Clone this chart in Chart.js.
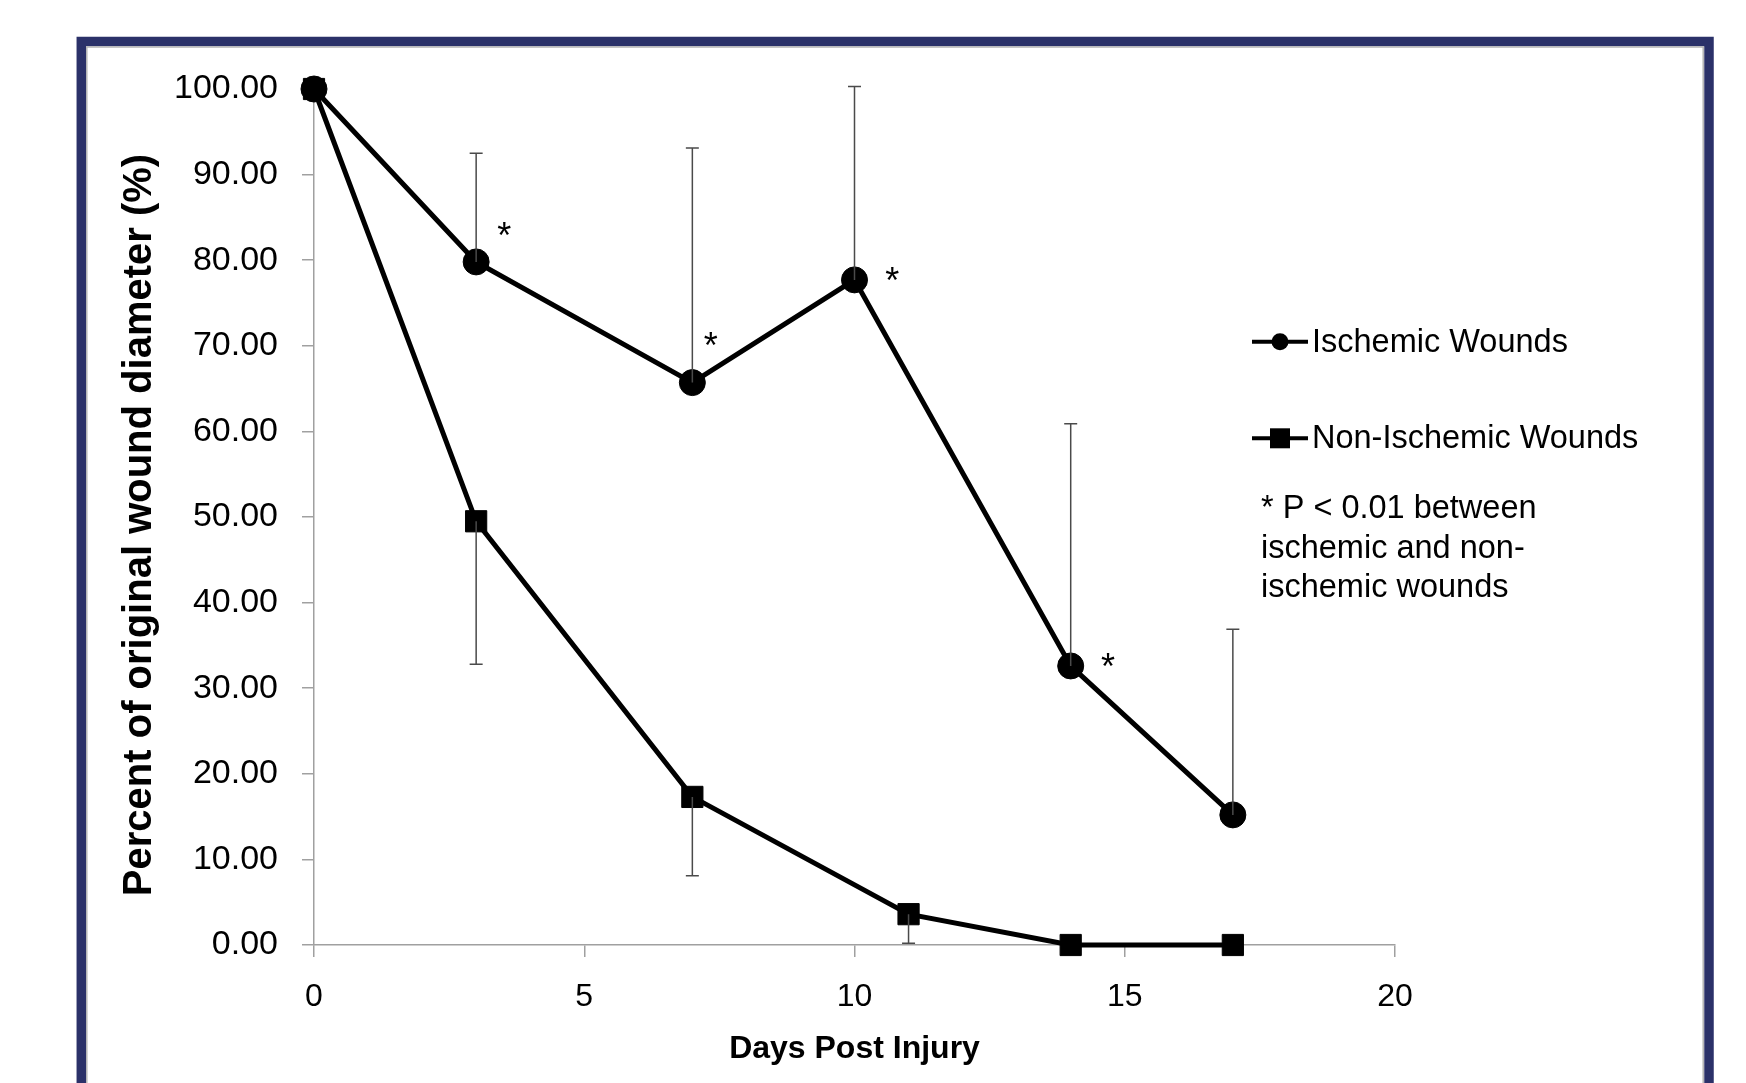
<!DOCTYPE html>
<html>
<head>
<meta charset="utf-8">
<script src="https://cdn.jsdelivr.net/npm/chart.js@4.4.1/dist/chart.umd.min.js"></script>
<style>
  html, body { margin: 0; padding: 0; background: #fff; }
  #wrap { width: 1746px; height: 1083px; position: relative; }
</style>
</head>
<body>
<div id="wrap"><canvas id="wounds"></canvas></div>
<script>
// Days post injury for each group
const ischemicDays = [0, 3, 7, 10, 14, 17];
const nonIschemicDays = [0, 3, 7, 11, 14, 17];

// Percent of original wound diameter
const ischemicValues = [100, 79.8, 65.7, 77.7, 32.6, 15.2];
const nonIschemicValues = [100, 49.5, 17.3, 3.6, 0, 0];

// Error bars (ischemic drawn upward, non-ischemic downward)
const ischemicErrUp = [0, 12.7, 27.4, 22.6, 28.3, 21.7];
const nonIschemicErrDown = [0, 16.7, 9.2, 3.4, 0, 0];

// Significance marks (* P < 0.01)
const starDays = [3.52, 7.34, 10.70, 14.69];
const starValues = [83.6, 70.8, 78.4, 33.3];

const seriesNames = ['Ischemic Wounds', 'Non-Ischemic Wounds'];
const noteLines = ['* P < 0.01 between', 'ischemic and non-', 'ischemic wounds'];
const yTitle = 'Percent of original wound diameter (%)';

const yTicks = [0, 10, 20, 30, 40, 50, 60, 70, 80, 90, 100];
const xTicks = [0, 5, 10, 15, 20];

Chart.defaults.font.family = "'Liberation Sans', Arial, sans-serif";
Chart.defaults.color = '#000';

const axisGrey = '#a0a0a0';

// frame round the whole figure
const framePlugin = {
    id: 'frame',
    beforeDraw(chart) {
        const ctx = chart.ctx;
        ctx.save();
        ctx.fillStyle = '#fff';
        ctx.fillRect(0, 0, chart.width, chart.height);
        ctx.strokeStyle = '#2b3169';
        ctx.lineWidth = 9.5;
        ctx.strokeRect(81.3, 41.5, 1627.7, 1080);
        ctx.strokeStyle = '#b4b4b4';
        ctx.lineWidth = 1.5;
        ctx.strokeRect(86.8, 47, 1616.4, 1080);
        ctx.restore();
    }
};

// error bars, stars, y title, legend and note
const extrasPlugin = {
    id: 'extras',
    afterDatasetsDraw(chart) {
        const ctx = chart.ctx;
        const xs = chart.scales.x, ys = chart.scales.y;
        ctx.save();
        ctx.strokeStyle = '#4a4a4a';
        ctx.lineWidth = 1.5;
        const bar = (day, from, to) => {
            const px = xs.getPixelForValue(day);
            const p1 = ys.getPixelForValue(from);
            const p2 = ys.getPixelForValue(to);
            ctx.beginPath();
            ctx.moveTo(px, p1);
            ctx.lineTo(px, p2);
            ctx.moveTo(px - 6.5, p2);
            ctx.lineTo(px + 6.5, p2);
            ctx.stroke();
        };
        ischemicDays.forEach((d, i) => {
            if (ischemicErrUp[i] > 0) bar(d, ischemicValues[i], ischemicValues[i] + ischemicErrUp[i]);
        });
        nonIschemicDays.forEach((d, i) => {
            if (nonIschemicErrDown[i] > 0) bar(d, nonIschemicValues[i], nonIschemicValues[i] - nonIschemicErrDown[i]);
        });

        // stars, centred on their ink
        ctx.fillStyle = '#000';
        ctx.font = "36px 'Liberation Sans'";
        ctx.textAlign = 'center';
        ctx.textBaseline = 'alphabetic';
        const m = ctx.measureText('*');
        const inkMid = (m.actualBoundingBoxAscent - m.actualBoundingBoxDescent) / 2;
        starDays.forEach((d, i) => {
            ctx.fillText('*', xs.getPixelForValue(d), ys.getPixelForValue(starValues[i]) + inkMid);
        });

        // y axis title (sits a little below the plot centre in the original)
        ctx.save();
        ctx.translate(140, 525);
        ctx.rotate(-Math.PI / 2);
        ctx.font = "bold 40px 'Liberation Sans'";
        ctx.textBaseline = 'middle';
        ctx.fillText(yTitle, 0, 0);
        ctx.restore();

        // legend
        ctx.textAlign = 'left';
        ctx.font = "32.5px 'Liberation Sans'";
        const rows = [341.7, 438.3];
        chart.data.datasets.forEach((ds, i) => {
            const y = rows[i];
            ctx.strokeStyle = '#000';
            ctx.lineWidth = 4;
            ctx.beginPath();
            ctx.moveTo(1252, y);
            ctx.lineTo(1308, y);
            ctx.stroke();
            ctx.beginPath();
            if (ds.pointStyle === 'circle') {
                ctx.arc(1280, y, 8.5, 0, Math.PI * 2);
            } else {
                ctx.rect(1270, y - 10, 20, 20);
            }
            ctx.fill();
            ctx.fillText(ds.label, 1312, y + 10);
        });
        const noteBase = [518.3, 557.8, 597];
        noteLines.forEach((t, i) => ctx.fillText(t, 1261, noteBase[i]));
        ctx.restore();
    }
};

const ctx = document.getElementById('wounds').getContext('2d');

const woundChart = new Chart(ctx, {
    type: 'line',
    data: {
        datasets: [{
            label: seriesNames[0],
            data: ischemicDays.map((d, i) => ({ x: d, y: ischemicValues[i] })),
            borderColor: '#000',
            backgroundColor: '#000',
            borderWidth: 5,
            pointStyle: 'circle',
            pointRadius: 13,
            pointBorderWidth: 1,
            tension: 0,
            clip: false
        }, {
            label: seriesNames[1],
            data: nonIschemicDays.map((d, i) => ({ x: d, y: nonIschemicValues[i] })),
            borderColor: '#000',
            backgroundColor: '#000',
            borderWidth: 5,
            pointStyle: 'rect',
            pointRadius: 15,
            pointBorderWidth: 1,
            tension: 0,
            clip: false
        }]
    },
    options: {
        responsive: true,
        maintainAspectRatio: false,
        animation: false,
        layout: { padding: { left: 0, top: 89, right: 351, bottom: 0 } },
        plugins: {
            legend: { display: false },
            tooltip: { enabled: false }
        },
        scales: {
            x: {
                type: 'linear',
                min: 0,
                max: 20,
                afterBuildTicks: (scale) => { scale.ticks = xTicks.map(v => ({ value: v })); },
                afterFit: (scale) => { scale.height = 138; },
                grid: { drawOnChartArea: false, drawTicks: true, tickLength: 12, color: axisGrey, lineWidth: 1.5 },
                border: { color: axisGrey, width: 1.5 },
                ticks: { font: { size: 32 }, padding: 21, color: '#000' },
                title: {
                    display: true,
                    text: 'Days Post Injury',
                    font: { size: 32, weight: 'bold' },
                    padding: { top: 0, bottom: 15 }
                }
            },
            y: {
                min: 0,
                max: 100,
                afterBuildTicks: (scale) => { scale.ticks = yTicks.map(v => ({ value: v })); },
                afterFit: (scale) => { scale.width = 314; },
                grid: { drawOnChartArea: false, drawTicks: true, tickLength: 12, color: axisGrey, lineWidth: 1.5 },
                border: { color: axisGrey, width: 1.5 },
                ticks: {
                    font: { size: 34 },
                    padding: 24,
                    color: '#000',
                    callback: (v) => Number(v).toFixed(2)
                }
            }
        }
    },
    plugins: [framePlugin, extrasPlugin]
});
</script>
</body>
</html>
